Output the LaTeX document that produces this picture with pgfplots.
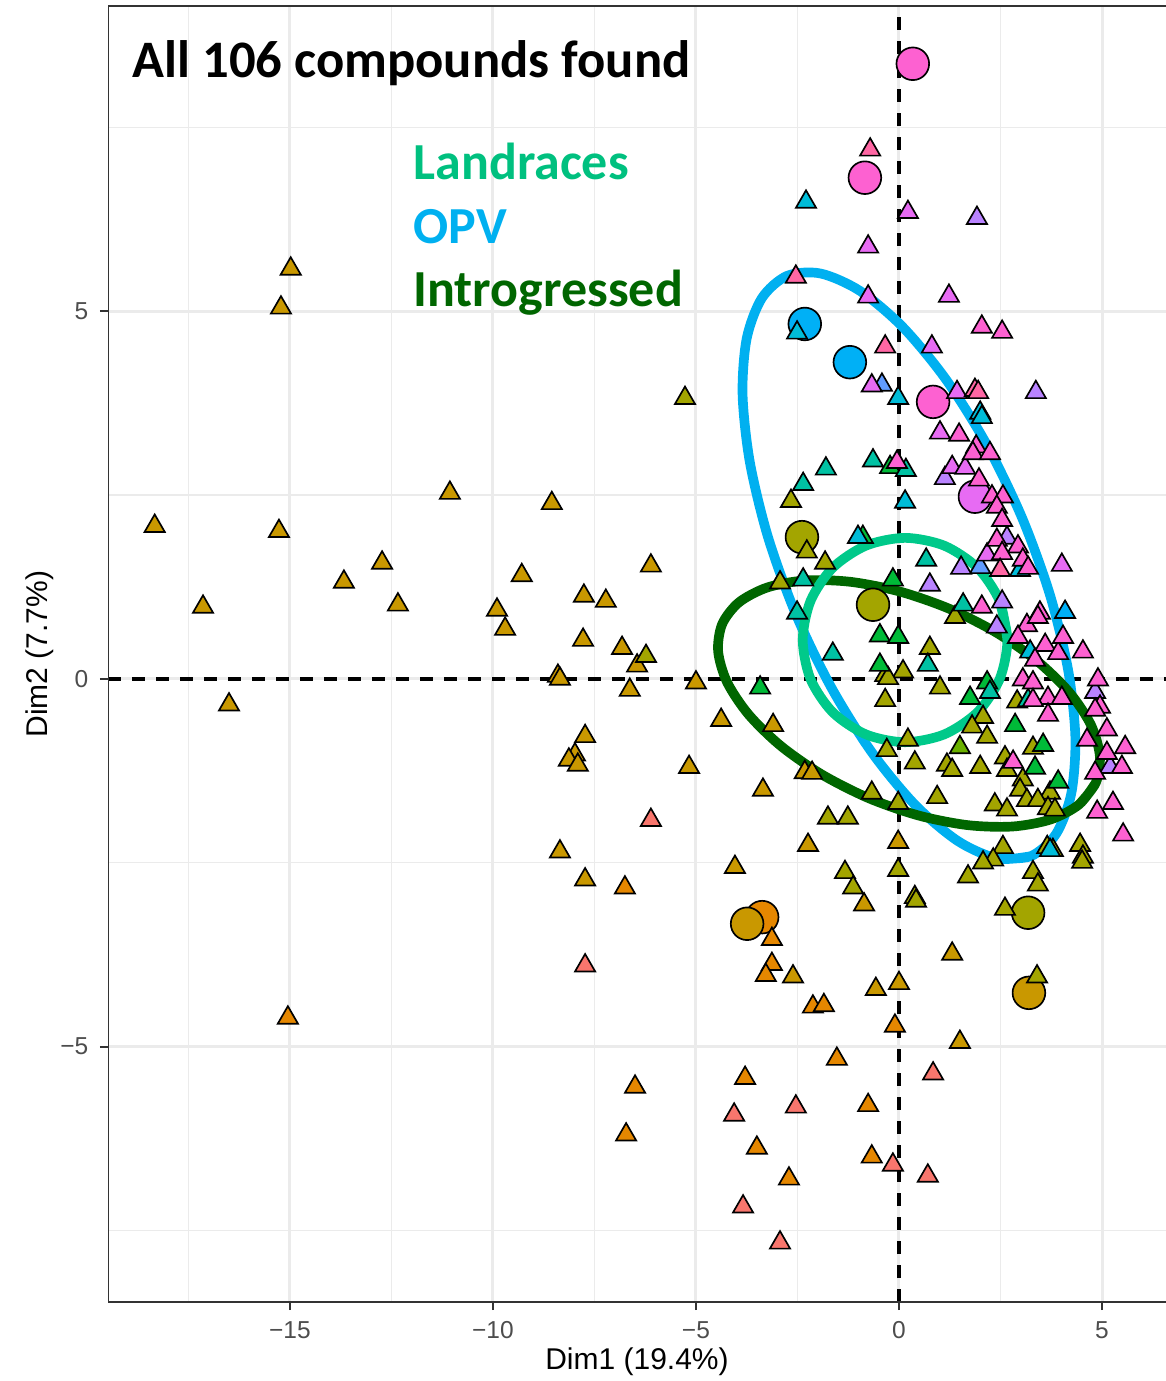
\documentclass[border=0pt]{standalone}
\usepackage{pgfplots}
\pgfplotsset{compat=1.18}
\usepackage{fontspec}
\setmainfont{Liberation Sans}
\newfontfamily\calib{Carlito}
\definecolor{cSal}{HTML}{F8766D}
\definecolor{cOra}{HTML}{E58700}
\definecolor{cDy}{HTML}{C99800}
\definecolor{cOl}{HTML}{A3A500}
\definecolor{cYg}{HTML}{6BB100}
\definecolor{cGr}{HTML}{00BA38}
\definecolor{cTe}{HTML}{00C1A3}
\definecolor{cCy}{HTML}{00BCD8}
\definecolor{cBl}{HTML}{00B0F6}
\definecolor{cLb}{HTML}{619CFF}
\definecolor{cPu}{HTML}{B983FF}
\definecolor{cMa}{HTML}{E76BF3}
\definecolor{cPk}{HTML}{FD61D1}
\definecolor{cPr}{HTML}{FF67A4}
\definecolor{landc}{HTML}{00C98A}
\definecolor{landt}{HTML}{00C07F}
\definecolor{opvc}{HTML}{00B0F0}
\definecolor{intc}{HTML}{006600}
\definecolor{gridgray}{HTML}{EBEBEB}
\definecolor{frame}{HTML}{333333}
\definecolor{tickgray}{HTML}{4D4D4D}
\pgfplotsset{
  tri/.style={only marks, mark=triangle*, mark size=3.5pt,
    mark options={draw=black, fill=#1, line width=0.5pt, solid}},
  circ/.style={only marks, mark=*, mark size=4.9pt,
    mark options={draw=black, fill=#1, line width=0.5pt, solid}},
}
\begin{document}
\begin{tikzpicture}
\begin{axis}[
  at={(0,0)}, anchor=south west,
  scale only axis, width=317.4pt, height=388.8pt,
  xmin=-19.48, xmax=6.576, ymin=-8.476, ymax=9.156,
  axis line style={draw=none},
  xtick={-15,-10,-5,0,5}, xticklabels={−15,−10,−5,0,5},
  ytick={-5,0,5}, yticklabels={−5,0,5},
  minor xtick={-17.5,-12.5,-7.5,-2.5,2.5},
  minor ytick={-7.5,-2.5,2.5,7.5},
  tick pos=left,
  tick align=outside,
  major tick length=2.4pt,
  minor tick length=0pt,
  tick style={color=frame, line width=0.6pt},
  grid=both,
  major grid style={color=gridgray, line width=0.9pt},
  minor grid style={color=gridgray, line width=0.45pt},
  ticklabel style={font=\fontsize{7.35}{8}\selectfont, text=tickgray},
  xlabel={Dim1 (19.4\%)}, ylabel={Dim2 (7.7\%)},
  label style={font=\fontsize{9}{10}\selectfont},
  xlabel style={at={(axis description cs:0.5,-0.0463)}, anchor=center},
  ylabel style={at={(axis description cs:-0.0643,0.5)}, anchor=center},
]
% big circles
\addplot[circ=cOra] coordinates {(-3.37,-3.24)};
\addplot[circ=cDy] coordinates {(-3.74,-3.33) (3.20,-4.27)};
\addplot[circ=cOl] coordinates {(-2.39,1.93) (-0.64,1.01) (3.18,-3.18)};
\addplot[circ=cBl] coordinates {(-2.32,4.83) (-1.21,4.31)};
\addplot[circ=cMa] coordinates {(1.87,2.48)};
\addplot[circ=cPk] coordinates {(0.34,8.37) (-0.84,6.82) (0.84,3.77)};
% triangles
\addplot[tri=cSal] coordinates {(-6.11,-1.92) (-7.73,-3.90) (0.84,-5.37) (-2.54,-5.82) (-4.06,-5.93) (-0.15,-6.61) (0.71,-6.76) (-3.84,-7.18) (-2.93,-7.67)};
\addplot[tri=cOra] coordinates {(-15.05,-4.61) (-6.75,-2.84) (-6.50,-5.55) (-6.72,-6.20) (-3.13,-3.54) (-3.13,-3.88) (-3.28,-4.03) (-2.12,-4.46) (-1.85,-4.44) (-0.10,-4.72) (-1.53,-5.17) (-3.79,-5.43) (-0.76,-5.80) (-3.50,-6.38) (-0.67,-6.50) (-2.71,-6.80)};
\addplot[tri=cDy] coordinates {(-18.33,2.08) (-17.14,0.98) (-16.50,-0.35) (-14.98,5.58) (-15.22,5.05) (-15.27,2.01) (-13.67,1.32) (-12.73,1.58) (-12.34,1.01) (-11.06,2.53) (-9.90,0.94) (-9.70,0.68) (-9.29,1.41) (-8.55,2.39) (-8.40,0.04) (-8.35,0.00) (-7.76,1.13) (-7.22,1.06) (-7.78,0.53) (-6.11,1.54) (-6.82,0.42) (-6.45,0.18) (-6.63,-0.15) (-5.00,-0.05) (-7.73,-0.78) (-7.98,-1.03) (-8.13,-1.10) (-7.91,-1.17) (-5.17,-1.20) (-8.35,-2.35) (-7.73,-2.73) (-4.38,-0.56) (-3.10,-0.63) (-2.32,-1.27) (-2.14,-1.28) (-3.35,-1.51) (-2.24,-2.26) (-4.04,-2.56) (-0.02,-2.22) (-0.86,-3.07) (1.31,-3.74) (-2.61,-4.05) (-0.57,-4.22) (0.00,-4.14) (1.50,-4.94)};
\addplot[tri=cOl] coordinates {(-5.27,3.82) (-6.23,0.31) (-2.66,2.42) (-2.27,1.73) (-1.82,1.58) (-2.93,1.31) (1.38,0.84) (0.76,0.42) (-0.34,0.05) (0.10,0.10) (-0.27,0.01) (1.01,-0.12) (-0.34,-0.29) (2.07,-0.52) (1.80,-0.65) (2.17,-0.79) (2.91,-0.31) (-0.30,-0.97) (0.22,-0.83) (0.39,-1.14) (1.18,-1.17) (1.31,-1.24) (2.00,-1.20) (2.61,-1.07) (2.66,-1.24) (3.30,-0.94) (3.05,-1.37) (2.98,-1.51) (3.72,-1.55) (2.36,-1.71) (2.66,-1.78) (3.15,-1.65) (3.42,-1.65) (3.67,-1.76) (3.84,-1.78) (0.94,-1.61) (-0.67,-1.55) (-0.02,-1.69) (-1.75,-1.89) (-1.26,-1.89) (-1.33,-2.63) (-1.13,-2.84) (-0.02,-2.60) (0.39,-2.97) (2.56,-2.29) (2.32,-2.46) (2.07,-2.50) (3.30,-2.63) (3.42,-2.80) (3.65,-2.29) (3.79,-2.33) (4.46,-2.26) (4.53,-2.42) (4.51,-2.49) (1.70,-2.69) (2.61,-3.13) (0.42,-3.02) (3.40,-4.05)};
\addplot[tri=cYg] coordinates {(1.50,-0.93)};
\addplot[tri=cGr] coordinates {(-3.42,-0.12) (-0.47,0.59) (-0.02,0.57) (-0.47,0.19) (-0.15,1.35) (-0.22,2.88) (1.75,-0.26) (2.17,-0.05) (2.86,-0.63) (3.35,-1.21) (3.55,-0.90) (3.92,-1.40) (-0.89,1.93)};
\addplot[tri=cTe] coordinates {(-1.63,0.34) (0.71,0.19) (0.67,1.62) (1.58,1.01) (-0.64,2.97) (-1.80,2.86) (-2.36,2.65) (0.17,2.84) (-2.36,1.35) (2.24,-0.18) (3.18,-0.29) (-2.51,0.90)};
\addplot[tri=cCy] coordinates {(-2.29,6.49) (-2.51,4.71) (-0.02,3.82) (0.15,2.41) (-1.01,1.93) (2.00,3.62) (2.04,3.56) (2.98,1.48) (3.23,0.37) (3.72,-2.33)};
\addplot[tri=cBl] coordinates {(4.09,0.91)};
\addplot[tri=cLb] coordinates {(-0.42,4.00) (2.00,1.52)};
\addplot[tri=cPu] coordinates {(1.92,6.27) (3.37,3.90) (1.13,2.73) (2.66,1.92) (1.53,1.51) (0.76,1.28) (2.54,1.05) (4.83,-0.18) (5.20,-1.20) (2.41,0.71)};
\addplot[tri=cMa] coordinates {(0.22,6.35) (-0.76,5.88) (1.23,5.21) (0.81,4.52) (-0.67,3.99) (1.43,3.90) (1.01,3.35) (1.31,2.88) (1.63,2.87) (2.17,1.69) (4.01,1.55) (-0.76,5.20)};
\addplot[tri=cPk] coordinates {(2.04,4.79) (2.54,4.72) (1.48,3.32) (1.90,3.16) (1.82,3.07) (2.24,3.07) (-0.05,2.95) (1.97,2.71) (2.29,2.48) (2.56,2.48) (2.41,2.34) (2.54,2.16) (2.41,1.89) (2.93,1.80) (2.54,1.71) (3.05,1.62) (3.18,1.51) (2.04,0.98) (3.47,0.90) (3.15,0.73) (3.42,0.84) (3.60,0.46) (3.92,0.35) (4.53,0.37) (4.04,0.57) (3.35,0.26) (3.05,-0.01) (3.30,-0.05) (3.67,-0.26) (4.01,-0.26) (3.67,-0.49) (3.30,-0.29) (4.90,-0.01) (4.95,-0.38) (4.83,-0.42) (4.63,-0.83) (5.12,-0.69) (5.57,-0.93) (5.12,-1.01) (5.49,-1.20) (4.83,-1.28) (5.27,-1.69) (4.88,-1.81) (5.52,-2.12) (2.81,-1.13) (2.93,0.57)};
\addplot[tri=cPr] coordinates {(-0.71,7.20) (-2.54,5.47) (-0.34,4.52) (1.87,3.93) (1.95,3.90) (2.49,1.48)};
% reference lines
\addplot[black, line width=1pt, dash pattern=on 4pt off 3.2pt] coordinates {(-19.48,0) (6.576,0)};
\addplot[black, line width=1pt, dash pattern=on 4pt off 3.2pt] coordinates {(0,-8.476) (0,9.156)};
% ellipses: OPV, Introgressed, Landraces
\addplot[smooth, line width=2.9pt, color=opvc] coordinates {(3.250,-2.410) (2.426,-2.443) (1.451,-2.205) (0.396,-1.712) (-0.669,-0.998) (-1.673,-0.110) (-2.545,0.889) (-3.227,1.932) (-3.673,2.950) (-3.852,3.870) (-3.751,4.631) (-3.378,5.181) (-2.758,5.484) (-1.934,5.517) (-0.959,5.279) (0.096,4.786) (1.161,4.072) (2.165,3.184) (3.037,2.185) (3.719,1.142) (4.165,0.124) (4.344,-0.796) (4.243,-1.557) (3.870,-2.107) (3.250,-2.410) (2.426,-2.443)};
\addplot[smooth, line width=2.9pt, color=intc] coordinates {(4.847,-1.412) (4.434,-1.708) (3.736,-1.911) (2.799,-2.007) (1.689,-1.988) (0.481,-1.857) (-0.744,-1.622) (-1.901,-1.299) (-2.912,-0.910) (-3.707,-0.481) (-4.234,-0.043) (-4.454,0.376) (-4.355,0.746) (-3.942,1.042) (-3.244,1.245) (-2.307,1.341) (-1.197,1.322) (0.011,1.191) (1.236,0.956) (2.393,0.633) (3.404,0.244) (4.199,-0.185) (4.726,-0.623) (4.946,-1.042) (4.847,-1.412) (4.434,-1.708)};
\addplot[smooth, line width=2.9pt, color=landc] coordinates {(2.67,0.53) (2.478,1.062) (1.932,1.513) (1.114,1.814) (0.15,1.92) (-0.814,1.814) (-1.632,1.513) (-2.178,1.062) (-2.37,0.53) (-2.178,-0.002) (-1.632,-0.453) (-0.814,-0.754) (0.15,-0.86) (1.114,-0.754) (1.932,-0.453) (2.478,-0.002) (2.67,0.53) (2.478,1.062)};
% texts
\node[anchor=base west, inner sep=0pt, font=\calib\bfseries\fontsize{15.8}{18}\selectfont] at (axis cs:-18.89,8.19) {All 106 compounds found};
\node[anchor=base west, inner sep=0pt, text=landt, font=\calib\bfseries\fontsize{15.6}{18}\selectfont] at (axis cs:-11.97,6.79) {Landraces};
\node[anchor=base west, inner sep=0pt, text=opvc, font=\calib\bfseries\fontsize{15.6}{18}\selectfont] at (axis cs:-11.97,5.93) {OPV};
\node[anchor=base west, inner sep=0pt, text=intc, font=\calib\bfseries\fontsize{15.6}{18}\selectfont] at (axis cs:-11.97,5.07) {Introgressed};
% frame (left, bottom, top)
\draw[color=frame, line width=0.6pt] (rel axis cs:1,1) -- (rel axis cs:0,1) -- (rel axis cs:0,0) -- (rel axis cs:1,0);
\end{axis}
\pgfresetboundingbox
\useasboundingbox (-32.4pt,-23.7pt) rectangle (317.4pt,390.6pt);
\end{tikzpicture}
\end{document}
